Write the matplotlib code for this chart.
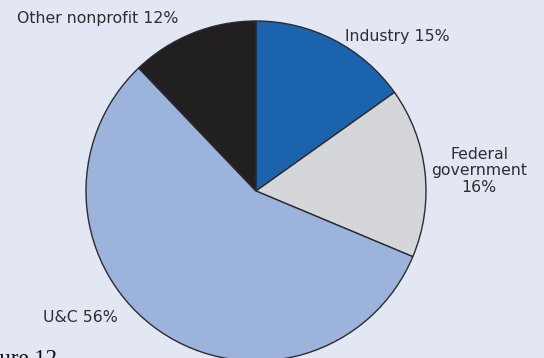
import matplotlib.pyplot as plt

labels = ["Industry", "Federal government", "U&C", "Other nonprofit"]
shares = [15, 16, 56, 12]
colors = ["#1c63ae", "#d4d6da", "#9cb4dc", "#221f20"]

W, H = 544, 358
BG = "#e3e6f3"

fig = plt.figure(figsize=(W / 100, H / 100), dpi=100, facecolor=BG)
ax = fig.add_axes([0, 0, 1, 1])
ax.set_facecolor(BG)

ax.pie(shares, colors=colors, startangle=90, counterclock=False,
       center=(256, H - 191), radius=170, frame=True,
       wedgeprops=dict(edgecolor="#2b2b33", linewidth=1.0))
ax.set_xlim(0, W)
ax.set_ylim(0, H)
ax.axis("off")

txt = dict(family="DejaVu Sans", fontsize=11.3, color="#2e2e2e")
ax.text(17, H - 19, f"{labels[3]} {shares[3]}%", ha="left", va="center", **txt)
ax.text(345, H - 36, f"{labels[0]} {shares[0]}%", ha="left", va="center", **txt)
ax.text(479, H - 171, f"Federal\ngovernment\n{shares[1]}%", ha="center", va="center",
        linespacing=1.15, **txt)
ax.text(43, H - 318, f"{labels[2]} {shares[2]}%", ha="left", va="center", **txt)

# caption partly outside the frame
ax.text(-31, -7, "Figure 12", family="Liberation Serif", fontsize=16.5, color="#111111",
        ha="left", va="baseline")

fig.savefig("out.png", dpi=100, facecolor=BG)
